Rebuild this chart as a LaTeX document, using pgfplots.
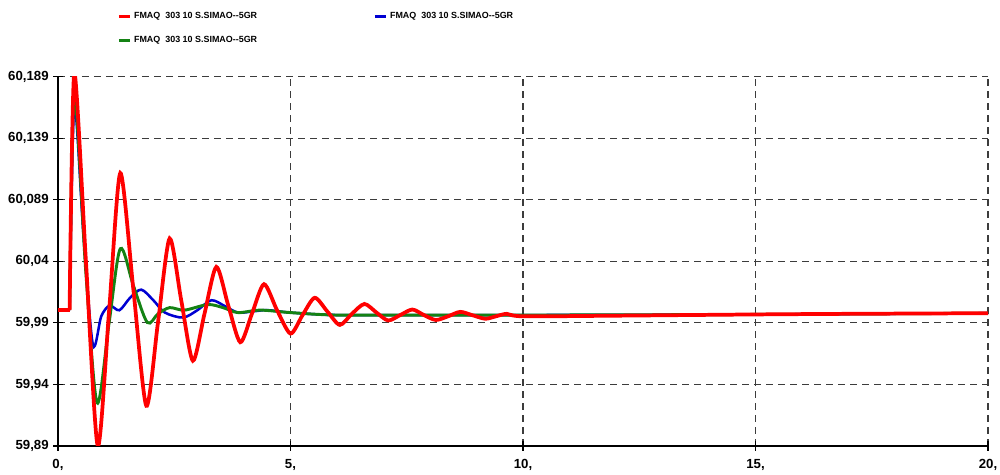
\documentclass[border=0pt]{standalone}
\usepackage{pgfplots}
\pgfplotsset{compat=1.18}
\usepackage{fontspec}
\setmainfont{Liberation Sans}
\definecolor{cred}{RGB}{255,0,0}
\definecolor{cblue}{RGB}{0,0,210}
\definecolor{cgreen}{RGB}{20,130,20}
\definecolor{cgrid}{RGB}{60,60,60}
\begin{document}
\begin{tikzpicture}
\path[use as bounding box] (0,0) rectangle (750pt,356.25pt);
\begin{axis}[
  at={(43.5pt,21.75pt)}, anchor=south west,
  scale only axis, width=697.5pt, height=277pt,
  xmin=0, xmax=20, ymin=59.89, ymax=60.189,
  axis x line*=bottom, axis y line*=left,
  axis line style={black, line width=0.9pt, -},
  xtick={0,5,10,15,20},
  xticklabels={{0,},{5,},{10,},{15,},{20,}},
  ytick={59.89,59.93983,59.98967,60.0395,60.08933,60.13917,60.189},
  yticklabels={{59,89},{59,94},{59,99},{60,04},{60,089},{60,139},{60,189}},
  tick align=center, major tick length=7pt,
  tick style={black, line width=0.8pt},
  ticklabel style={font=\fontsize{9.9}{11}\selectfont\bfseries},
  xticklabel style={yshift=-3pt},
  grid=major,
  major grid style={cgrid, line width=0.8pt, dash pattern=on 5pt off 4pt},
  legend columns=2,
  legend style={at={(0.0634,1.182)}, anchor=north west, draw=none, fill=none,
    font=\fontsize{6.7}{8}\selectfont\bfseries, inner sep=0pt,
    /tikz/every even column/.append style={column sep=85pt},
    row sep=8pt},
  legend cell align=left,
  legend image code/.code={\draw[#1] (0pt,0pt) -- (8.25pt,0pt);},
]
\addlegendimage{cred, line width=2.4pt}
\addlegendentry{FMAQ\ \ 303 10 S.SIMAO-{}-5GR}
\addlegendimage{cblue, line width=2.4pt}
\addlegendentry{FMAQ\ \ 303 10 S.SIMAO-{}-5GR}
\addlegendimage{cgreen, line width=2.4pt}
\addlegendentry{FMAQ\ \ 303 10 S.SIMAO-{}-5GR}

% blue
\addplot[cblue, line width=1.9pt, forget plot] coordinates {(0,60.0) (0.25,60.0)};
\addplot[cblue, line width=1.9pt, smooth, tension=0.5, forget plot] coordinates {
(0.25,60.0) (0.35,60.165) (0.55,60.06) (0.75,59.972) (0.93,59.995)
(1.11,60.0037) (1.32,59.9999) (1.55,60.01) (1.79,60.0166) (2.05,60.008)
(2.3,59.998) (2.69,59.994) (3.0,60.0) (3.30,60.008) (3.6,60.003)
(3.87,59.998) (4.2,59.999) (4.5,60.0) (5.0,59.998) (6,59.996) (8,59.996)
(10,59.996) (15,59.9965) (20,59.9975)};
% green
\addplot[cgreen, line width=2.2pt, forget plot] coordinates {(0,60.0) (0.25,60.0)};
\addplot[cgreen, line width=2.2pt, smooth, tension=0.5, forget plot] coordinates {
(0.25,60.0) (0.35,60.175) (0.6,60.03) (0.84,59.925) (1.1,59.99)
(1.34,60.0497) (1.62,60.02) (1.92,59.990) (2.15,59.997) (2.40,60.002)
(2.72,60.0) (3.22,60.0045) (3.55,60.002) (3.87,59.998) (4.35,60.0)
(5.0,59.998) (6,59.996) (8,59.996) (10,59.996) (15,59.9965) (20,59.9975)};
% red
\addplot[cred, line width=2.8pt, forget plot] coordinates {(0,60.0) (0.25,60.0)};
\addplot[cred, line width=2.8pt, smooth, tension=0.45, forget plot] coordinates {
(0.25,60.0) (0.35,60.192) (0.6,60.04) (0.855,59.89) (1.1,60.0)
(1.34,60.111) (1.62,60.017) (1.90,59.9225) (2.15,59.99) (2.40,60.058)
(2.65,60.008) (2.90,59.959) (3.15,59.997) (3.405,60.035) (3.66,60.004)
(3.92,59.974) (4.17,59.997) (4.43,60.021) (4.71,60.0) (5.0,59.981)
(5.26,59.996) (5.52,60.010) (5.79,59.999) (6.06,59.988) (6.32,59.997)
(6.59,60.005) (6.85,59.998) (7.10,59.9916) (7.36,59.996) (7.62,60.0005)
(7.87,59.996) (8.125,59.992) (8.39,59.995) (8.65,59.9986) (8.92,59.9958)
(9.19,59.993) (9.42,59.995) (9.65,59.997) (10,59.995) (12,59.9955)
(15,59.9965) (17,59.997) (20,59.9975)};
\end{axis}
\end{tikzpicture}
\end{document}
